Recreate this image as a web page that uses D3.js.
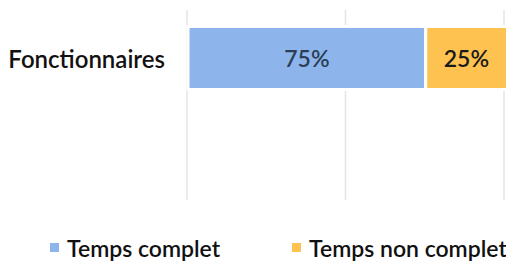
<!DOCTYPE html>
<html>
<head>
<meta charset="utf-8">
<script src="https://cdn.jsdelivr.net/npm/d3@7"></script>
<style>
  body { margin: 0; background: #fff; }
  text { font-family: Lato, "Open Sans", sans-serif; }
</style>
</head>
<body>
<div id="chart"></div>
<script>
// data
const categories = ["Fonctionnaires"];
const seriesNames = ["Temps complet", "Temps non complet"];
const tempsComplet = [0.75];
const tempsNonComplet = [0.25];
const gridTicks = [0, 0.5, 1];

const colors = ["#8db5ec", "#fdc24f"];
const labelColors = ["#2c3e55", "#1a1a1a"];

const W = 506, H = 264;
const svg = d3.select("#chart").append("svg")
    .attr("width", W)
    .attr("height", H);

const x = d3.scaleLinear().domain([0, 1]).range([188, 505]);
const y = d3.scaleBand().domain(categories).range([10, 106]).paddingInner(0).paddingOuter(0.262);

// gridlines
svg.append("g")
    .selectAll("line")
    .data(gridTicks)
    .join("line")
    .attr("x1", d => x(d) - 1)
    .attr("x2", d => x(d) - 1)
    .attr("y1", 10)
    .attr("y2", 200)
    .attr("stroke", "#e4e4e4")
    .attr("stroke-width", 1.5);

// stack the series
const rows = categories.map((c, i) => ({ cat: c, values: [tempsComplet[i], tempsNonComplet[i]] }));
rows.forEach(r => {
    let acc = 0;
    r.segs = r.values.map((v, k) => {
        const s = { x0: acc, x1: acc + v, v, k };
        acc += v;
        return s;
    });
});

const rowG = svg.append("g").selectAll("g")
    .data(rows)
    .join("g");

rowG.selectAll("rect")
    .data(r => r.segs.map(s => ({ ...s, cat: r.cat })))
    .join("rect")
    .attr("x", d => x(d.x0))
    .attr("width", d => x(d.x1) - x(d.x0) + (d.k === 1 ? 3 : 0))
    .attr("y", d => y(d.cat))
    .attr("height", y.bandwidth())
    .attr("fill", d => colors[d.k])
    .attr("stroke", "#fff")
    .attr("stroke-width", 3);

rowG.selectAll("text.val")
    .data(r => r.segs.map(s => ({ ...s, cat: r.cat })))
    .join("text")
    .attr("class", "val")
    .attr("x", d => (x(d.x0) + x(d.x1)) / 2 + (d.k === 1 ? 1 : 0))
    .attr("y", d => y(d.cat) + y.bandwidth() / 2)
    .attr("text-anchor", "middle")
    .attr("dominant-baseline", "central")
    .attr("font-size", 23)
    .attr("font-weight", 600)
    .attr("fill", d => labelColors[d.k])
    .text(d => Math.round(d.v * 100) + "%");

// category labels
svg.append("g").selectAll("text")
    .data(categories)
    .join("text")
    .attr("x", 165)
    .attr("y", d => y(d) + y.bandwidth() / 2)
    .attr("text-anchor", "end")
    .attr("dominant-baseline", "central")
    .attr("font-size", 24)
    .attr("font-weight", 600)
    .attr("fill", "#111")
    .text(d => d);

// legend
const legendX = [50, 292];
const legend = svg.append("g").selectAll("g")
    .data(seriesNames)
    .join("g")
    .attr("transform", (d, i) => `translate(${legendX[i]},248)`);
legend.append("rect")
    .attr("x", 0).attr("y", -5)
    .attr("width", 9).attr("height", 9)
    .attr("fill", (d, i) => colors[i]);
legend.append("text")
    .attr("x", 17)
    .attr("y", 0)
    .attr("dominant-baseline", "central")
    .attr("font-size", 23)
    .attr("font-weight", 600)
    .attr("fill", "#111")
    .text(d => d);
</script>
</body>
</html>
